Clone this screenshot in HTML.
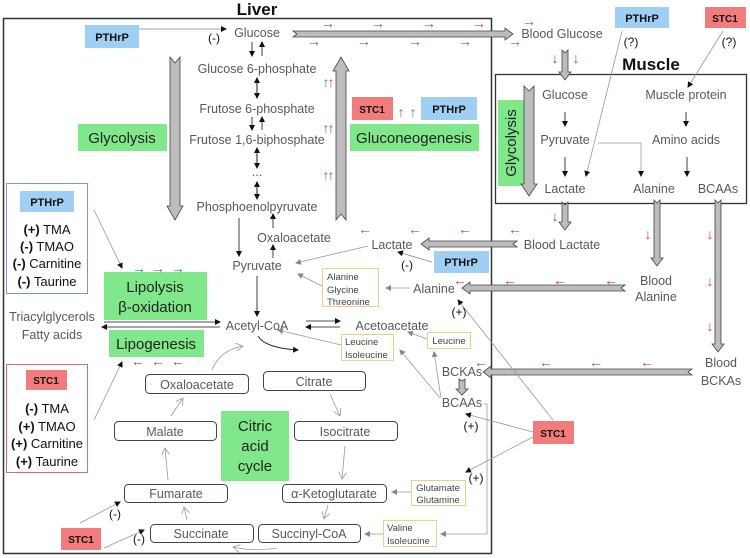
<!DOCTYPE html>
<html><head><meta charset="utf-8"><style>
html,body{margin:0;padding:0;background:#fff}
svg{display:block}
text{font-family:"Liberation Sans",sans-serif}
.g{fill:#595959;font-size:12.5px}
.b{fill:#111;font-size:12px}
.bo{fill:#111;font-size:11px;font-weight:bold}
.gr{fill:#80e88a}
.bl{fill:#9fd0f4}
.rd{fill:#f27b7b}
.ye{fill:#fff;stroke:#efd08a;stroke-width:1}
.rb{fill:#fff;stroke:#444;stroke-width:1}
.big{fill:#bdbdbd;stroke:#444;stroke-width:0.8}
.ln{stroke:#111;stroke-width:0.8;fill:none}
.lg{stroke:#999;stroke-width:0.8;fill:none}
</style></head><body>
<svg width="750" height="558" viewBox="0 0 750 558" xmlns="http://www.w3.org/2000/svg">
<defs>
<marker id="a" markerWidth="6" markerHeight="6" refX="5" refY="3" orient="auto" markerUnits="userSpaceOnUse"><path d="M0,0 L6,3 L0,6 z" fill="#111"/></marker>
<marker id="ag" markerWidth="6" markerHeight="6" refX="5" refY="3" orient="auto" markerUnits="userSpaceOnUse"><path d="M0,0 L6,3 L0,6 z" fill="#888"/></marker>
<marker id="ao" markerWidth="8" markerHeight="8" refX="7" refY="4" orient="auto" markerUnits="userSpaceOnUse"><path d="M0,0 L7,4 L0,8" fill="none" stroke="#999" stroke-width="0.8"/></marker>
</defs>

<rect x="3.5" y="18.5" width="488" height="535" fill="none" stroke="#333" stroke-width="1.5"/>
<text x="257" y="15" text-anchor="middle" style="font-size:17px;font-weight:bold" fill="#111">Liver</text>
<rect x="495.5" y="74.5" width="251" height="129" fill="none" stroke="#333" stroke-width="1.3"/>
<text x="651" y="70" text-anchor="middle" style="font-size:17px;font-weight:bold" fill="#111">Muscle</text>

<rect class="gr" x="78" y="124" width="89" height="27"/><text x="122" y="143" text-anchor="middle" style="font-size:15px" fill="#222">Glycolysis</text>
<rect class="gr" x="350" y="124" width="129" height="27"/><text x="414" y="143" text-anchor="middle" style="font-size:15px" fill="#222">Gluconeogenesis</text>
<rect class="gr" x="104" y="272" width="103" height="48"/><text x="155" y="292" text-anchor="middle" style="font-size:15px" fill="#222">Lipolysis</text><text x="155" y="312" text-anchor="middle" style="font-size:15px" fill="#222">β-oxidation</text>
<rect class="gr" x="109" y="330" width="95" height="27"/><text x="156" y="349" text-anchor="middle" style="font-size:15px" fill="#222">Lipogenesis</text>
<rect class="gr" x="221" y="411" width="68" height="70"/><text x="255" y="431" text-anchor="middle" style="font-size:15px" fill="#222">Citric</text><text x="255" y="451" text-anchor="middle" style="font-size:15px" fill="#222">acid</text><text x="255" y="471" text-anchor="middle" style="font-size:15px" fill="#222">cycle</text>
<rect class="gr" x="498" y="100" width="26" height="86"/><text transform="translate(516,143) rotate(-90)" text-anchor="middle" style="font-size:15px" fill="#222">Glycolysis</text>

<rect class="bl" x="85" y="25" width="54" height="23"/><text class="bo" x="112" y="41" text-anchor="middle">PTHrP</text>
<rect class="bl" x="421" y="97" width="56" height="23"/><text class="bo" x="449" y="113" text-anchor="middle">PTHrP</text>
<rect class="rd" x="352" y="97" width="41" height="23"/><text class="bo" x="372" y="113" text-anchor="middle" style="font-size:10px">STC1</text>
<rect class="bl" x="615" y="7" width="54" height="21"/><text class="bo" x="642" y="22" text-anchor="middle">PTHrP</text>
<rect class="rd" x="705" y="7" width="41" height="21"/><text class="bo" x="725" y="22" text-anchor="middle" style="font-size:10px">STC1</text>
<rect class="bl" x="434" y="251" width="55" height="22"/><text class="bo" x="461" y="266" text-anchor="middle">PTHrP</text>
<rect class="rd" x="533" y="421" width="41" height="23"/><text class="bo" x="553" y="437" text-anchor="middle" style="font-size:10px">STC1</text>
<rect class="rd" x="61" y="528" width="40" height="22"/><text class="bo" x="81" y="543" text-anchor="middle" style="font-size:10px">STC1</text>

<rect x="6.5" y="183.5" width="81" height="110" fill="none" stroke="#5a7fc0" stroke-width="0.8"/>
<rect class="bl" x="20" y="191" width="54" height="21"/><text class="bo" x="47" y="206" text-anchor="middle">PTHrP</text>
<text x="47" y="234" text-anchor="middle" style="font-size:13px" fill="#111"><tspan font-weight="bold">(+)</tspan> TMA</text>
<text x="47" y="251" text-anchor="middle" style="font-size:13px" fill="#111"><tspan font-weight="bold">(-)</tspan> TMAO</text>
<text x="47" y="268" text-anchor="middle" style="font-size:13px" fill="#111"><tspan font-weight="bold">(-)</tspan> Carnitine</text>
<text x="47" y="286" text-anchor="middle" style="font-size:13px" fill="#111"><tspan font-weight="bold">(-)</tspan> Taurine</text>
<rect x="6.5" y="364.5" width="81" height="108" fill="none" stroke="#c05050" stroke-width="0.8"/>
<rect class="rd" x="26" y="370" width="41" height="20"/><text class="bo" x="46" y="384" text-anchor="middle" style="font-size:10px">STC1</text>
<text x="47" y="413" text-anchor="middle" style="font-size:13px" fill="#111"><tspan font-weight="bold">(-)</tspan> TMA</text>
<text x="47" y="431" text-anchor="middle" style="font-size:13px" fill="#111"><tspan font-weight="bold">(+)</tspan> TMAO</text>
<text x="47" y="448" text-anchor="middle" style="font-size:13px" fill="#111"><tspan font-weight="bold">(+)</tspan> Carnitine</text>
<text x="47" y="466" text-anchor="middle" style="font-size:13px" fill="#111"><tspan font-weight="bold">(+)</tspan> Taurine</text>

<rect class="ye" x="322.5" y="268.5" width="56" height="38"/>
<text x="327" y="280" style="font-size:9.5px" fill="#444">Alanine</text><text x="327" y="293" style="font-size:9.5px" fill="#444">Glycine</text><text x="327" y="305" style="font-size:9.5px" fill="#444">Threonine</text>
<rect class="ye" x="341.5" y="334.5" width="52" height="26"/>
<text x="345" y="345" style="font-size:9.5px" fill="#444">Leucine</text><text x="345" y="358" style="font-size:9.5px" fill="#444">Isoleucine</text>
<rect class="ye" x="427.5" y="332.5" width="43" height="16"/><text x="449" y="344" text-anchor="middle" style="font-size:9.5px" fill="#444">Leucine</text>
<rect class="ye" x="411.5" y="480.5" width="54" height="25"/>
<text x="438" y="491" text-anchor="middle" style="font-size:9.5px" fill="#444">Glutamate</text><text x="438" y="503" text-anchor="middle" style="font-size:9.5px" fill="#444">Glutamine</text>
<rect class="ye" x="383.5" y="520.5" width="53" height="26"/>
<text x="387" y="531" style="font-size:9.5px" fill="#444">Valine</text><text x="387" y="544" style="font-size:9.5px" fill="#444">Isoleucine</text>

<rect class="rb" x="145.5" y="374.5" width="103" height="19" rx="4"/><text class="g" x="197" y="389" text-anchor="middle">Oxaloacetate</text>
<rect class="rb" x="263.5" y="371.5" width="102" height="19" rx="4"/><text class="g" x="314" y="386" text-anchor="middle">Citrate</text>
<rect class="rb" x="114.5" y="421.5" width="102" height="19" rx="4"/><text class="g" x="165" y="436" text-anchor="middle">Malate</text>
<rect class="rb" x="294.5" y="421.5" width="103" height="19" rx="4"/><text class="g" x="345" y="436" text-anchor="middle">Isocitrate</text>
<rect class="rb" x="124.5" y="484.5" width="103" height="18" rx="4"/><text class="g" x="176" y="498" text-anchor="middle">Fumarate</text>
<rect class="rb" x="282.5" y="484.5" width="104" height="18" rx="4"/><text class="g" x="334" y="498" text-anchor="middle">α-Ketoglutarate</text>
<rect class="rb" x="150.5" y="524.5" width="103" height="18" rx="4"/><text class="g" x="201" y="538" text-anchor="middle">Succinate</text>
<rect class="rb" x="258.5" y="524.5" width="102" height="18" rx="4"/><text class="g" x="309" y="538" text-anchor="middle">Succinyl-CoA</text>

<g class="g" text-anchor="middle">
<text x="257" y="37">Glucose</text>
<text x="257" y="73">Glucose 6-phosphate</text>
<text x="257" y="113">Frutose 6-phosphate</text>
<text x="257" y="144">Frutose 1,6-biphosphate</text>
<text x="257" y="176">...</text>
<text x="257" y="211">Phosphoenolpyruvate</text>
<text x="294" y="242">Oxaloacetate</text>
<text x="257" y="270">Pyruvate</text>
<text x="392" y="249">Lactate</text>
<text x="434" y="293">Alanine</text>
<text x="257" y="330">Acetyl-CoA</text>
<text x="392" y="330">Acetoacetate</text>
<text x="462" y="376">BCKAs</text>
<text x="462" y="407">BCAAs</text>
<text x="52" y="321">Triacylglycerols</text>
<text x="52" y="339">Fatty acids</text>
<text x="562" y="38">Blood Glucose</text>
<text x="562" y="249">Blood Lactate</text>
<text x="656" y="285">Blood</text><text x="656" y="301">Alanine</text>
<text x="721" y="367">Blood</text><text x="721" y="385">BCKAs</text>
<text x="565" y="99">Glucose</text>
<text x="686" y="99">Muscle protein</text>
<text x="565" y="144">Pyruvate</text>
<text x="686" y="144">Amino acids</text>
<text x="565" y="193">Lactate</text>
<text x="654" y="193">Alanine</text>
<text x="718" y="193">BCAAs</text>
</g>

<polygon class="big" points="170,57 175,63 180,57 180,206 183,206 175,220 167,206 170,206"/>
<polygon class="big" points="336,220 341,214 346,220 346,71 349,71 341,57 333,71 336,71"/>
<polygon class="big" points="293,31 297,34 293,37 505,37 505,40 513,34 505,28 505,31"/>
<polygon class="big" points="562,50 565,53 568,50 568,72 571,72 565,80 559,72 562,72"/>
<polygon class="big" points="524,86 529,91 534,86 534,184 537,184 529,196 521,184 524,184"/>
<polygon class="big" points="562,202 565,205 568,202 568,222 571,222 565,230 559,222 562,222"/>
<polygon class="big" points="517,241 513,244 517,247 429,247 429,250 421,244 429,238 429,241"/>
<polygon class="big" points="654,200 657,203 660,200 660,258 663,258 657,266 651,258 654,258"/>
<polygon class="big" points="625,285 621,288 625,291 470,291 470,294 462,288 470,282 470,285"/>
<polygon class="big" points="715,200 718,203 721,200 721,344 724,344 718,352 712,344 715,344"/>
<polygon class="big" points="692,369 688,372 692,375 491,375 491,378 483,372 491,366 491,369"/>
<polygon class="big" points="459,379 462,381 465,379 465,389 468,389 462,395 456,389 459,389"/>

<g style="font-size:14px" fill="#d04040" text-anchor="middle">
<text x="328" y="28">→</text><text x="378" y="28">→</text><text x="429" y="28">→</text><text x="479" y="28">→</text><text x="529" y="26">→</text>
<text x="576" y="63">↓</text>
<text x="331" y="87">↑</text><text x="331" y="133">↑</text><text x="331" y="180">↑</text>
<text x="401" y="117">↑</text>
<text x="648" y="239">↓</text><text x="710" y="239">↓</text><text x="710" y="286">↓</text><text x="710" y="331">↓</text>
<text x="460" y="285">←</text><text x="510" y="285">←</text><text x="560" y="285">←</text><text x="611" y="285">←</text>
<text x="481" y="367">←</text><text x="546" y="367">←</text><text x="596" y="367">←</text><text x="647" y="367">←</text>
<text x="138" y="366">←</text><text x="158" y="366">←</text><text x="178" y="366">←</text>
</g>
<g style="font-size:14px" fill="#4a70c0" text-anchor="middle">
<text x="314" y="46">→</text><text x="364" y="46">→</text><text x="415" y="46">→</text><text x="465" y="46">→</text><text x="515" y="46">→</text>
<text x="555" y="63">↓</text>
<text x="326" y="87">↑</text><text x="326" y="133">↑</text><text x="326" y="180">↑</text>
<text x="413" y="117">↑</text>
<text x="365" y="234">←</text><text x="415" y="234">←</text><text x="465" y="234">←</text><text x="515" y="234">←</text>
<text x="555" y="221">↓</text>
<text x="139" y="273">→</text><text x="158" y="273">→</text><text x="178" y="273">→</text>
</g>

<g class="ln">
<line x1="139" y1="29" x2="226" y2="29" marker-end="url(#a)" stroke="#888"/>
<line x1="252" y1="42" x2="252" y2="56" marker-end="url(#a)"/><line x1="262" y1="56" x2="262" y2="42" marker-end="url(#a)"/>
<line x1="257" y1="82" x2="257" y2="98" marker-end="url(#a)"/><line x1="257" y1="92" x2="257" y2="78" marker-end="url(#a)"/>
<line x1="252" y1="117" x2="252" y2="130" marker-end="url(#a)"/><line x1="262" y1="130" x2="262" y2="117" marker-end="url(#a)"/>
<line x1="257" y1="154" x2="257" y2="168" marker-end="url(#a)"/><line x1="257" y1="162" x2="257" y2="148" marker-end="url(#a)"/>
<line x1="257" y1="188" x2="257" y2="199" marker-end="url(#a)"/><line x1="257" y1="194" x2="257" y2="182" marker-end="url(#a)"/>
<line x1="239" y1="218" x2="239" y2="256" marker-end="url(#a)"/>
<line x1="273" y1="258" x2="273" y2="245" marker-end="url(#a)"/>
<line x1="273" y1="228" x2="273" y2="214" marker-end="url(#a)"/>
<line x1="257" y1="276" x2="257" y2="316" marker-end="url(#a)"/>
<line x1="104" y1="322" x2="220" y2="322" marker-end="url(#a)"/>
<line x1="220" y1="327" x2="102" y2="327" marker-end="url(#a)"/>
<line x1="306" y1="321" x2="340" y2="321" marker-end="url(#a)"/>
<line x1="340" y1="327" x2="306" y2="327" marker-end="url(#a)"/>
<path d="M258,336 Q265,348 298,350" marker-end="url(#a)"/>
<line x1="432" y1="262" x2="398" y2="252" marker-end="url(#a)" stroke="#888"/>
<line x1="553" y1="420" x2="458" y2="300" marker-end="url(#a)" stroke="#999"/>
<line x1="533" y1="432" x2="466" y2="414" marker-end="url(#a)" stroke="#999"/>
<line x1="533" y1="437" x2="466" y2="472" marker-end="url(#a)" stroke="#999"/>
<line x1="94" y1="210" x2="122" y2="268" marker-end="url(#a)" stroke="#999"/>
<line x1="94" y1="420" x2="122" y2="362" marker-end="url(#a)" stroke="#999"/>
<line x1="80" y1="523" x2="120" y2="502" marker-end="url(#a)" stroke="#999"/>
<line x1="104" y1="548" x2="144" y2="530" marker-end="url(#a)" stroke="#999"/>
<line x1="565" y1="112" x2="565" y2="126" marker-end="url(#a)"/>
<line x1="565" y1="157" x2="565" y2="176" marker-end="url(#a)"/>
<line x1="686" y1="112" x2="686" y2="126" marker-end="url(#a)"/>
<line x1="687" y1="157" x2="687" y2="176" marker-end="url(#a)"/>
<polyline points="598,143 641,143 641,176" marker-end="url(#a)" stroke="#999"/>
<line x1="622" y1="31" x2="586" y2="176" marker-end="url(#a)" stroke="#999"/>
<line x1="723" y1="31" x2="688" y2="87" marker-end="url(#a)" stroke="#999"/>
</g>
<g class="lg">
<line x1="368" y1="246" x2="296" y2="263" marker-end="url(#ag)"/>
<line x1="322" y1="286" x2="298" y2="274" marker-end="url(#ag)"/>
<line x1="410" y1="288" x2="386" y2="288" marker-end="url(#ag)"/>
<line x1="341" y1="345" x2="278" y2="330" marker-end="url(#ag)"/>
<line x1="427" y1="339" x2="408" y2="332" marker-end="url(#ag)"/>
<line x1="440" y1="398" x2="400" y2="350" marker-end="url(#ag)"/>
<line x1="441" y1="398" x2="434" y2="352" marker-end="url(#ag)"/>
<polyline points="484,404 487,404 487,534 441,534" marker-end="url(#ag)"/>
<line x1="411" y1="492" x2="392" y2="492" marker-end="url(#ag)"/>
<line x1="383" y1="534" x2="365" y2="534" marker-end="url(#ag)"/>
<path d="M212,370 Q220,350 243,346" marker-end="url(#ao)"/>
<line x1="330" y1="394" x2="340" y2="416" marker-end="url(#ao)"/>
<line x1="345" y1="446" x2="342" y2="479" marker-end="url(#ao)"/>
<line x1="328" y1="505" x2="324" y2="519" marker-end="url(#ao)"/>
<path d="M277,548 Q255,552 233,547" marker-end="url(#ao)"/>
<line x1="187" y1="520" x2="184" y2="507" marker-end="url(#ao)"/>
<line x1="168" y1="480" x2="165" y2="448" marker-end="url(#ao)"/>
<line x1="171" y1="416" x2="183" y2="398" marker-end="url(#ao)"/>
</g>

<g class="b" text-anchor="middle">
<text x="214" y="42">(-)</text>
<text x="407" y="269">(-)</text>
<text x="459" y="316">(+)</text>
<text x="471" y="430">(+)</text>
<text x="476" y="482">(+)</text>
<text x="115" y="518">(-)</text>
<text x="139" y="543">(-)</text>
<text x="631" y="46">(?)</text>
<text x="729" y="46">(?)</text>
</g>
</svg>
</body></html>
